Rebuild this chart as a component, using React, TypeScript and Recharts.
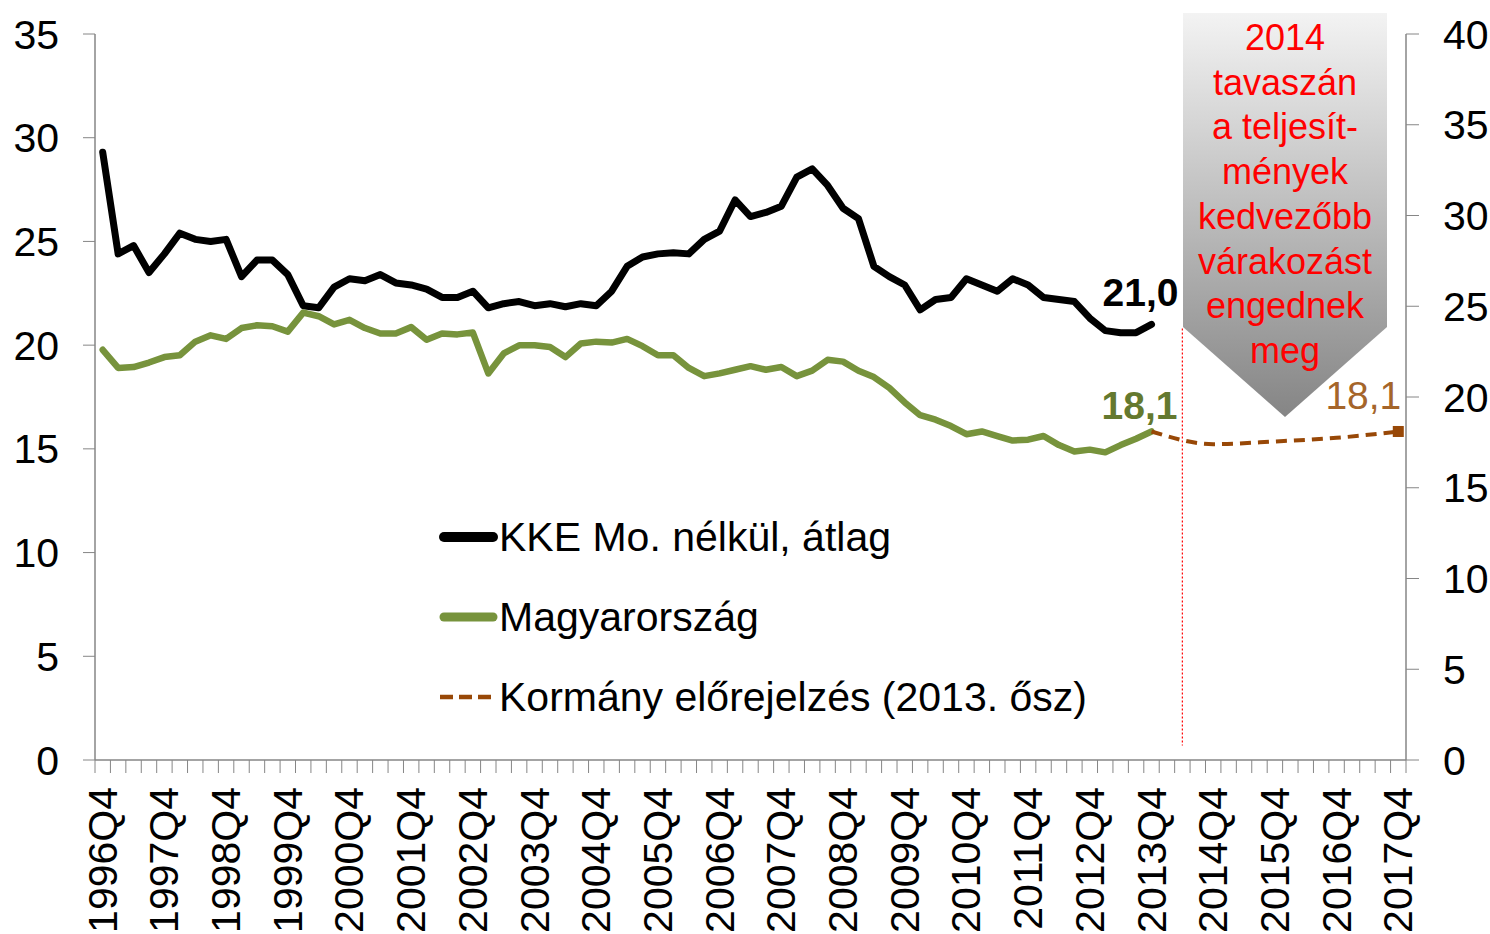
import React from "react";
import { Legend, Line, LineChart, ReferenceLine, XAxis, YAxis } from "recharts";

const QUARTERS = [
  "1996Q4",
  "1997Q1", "1997Q2", "1997Q3", "1997Q4",
  "1998Q1", "1998Q2", "1998Q3", "1998Q4",
  "1999Q1", "1999Q2", "1999Q3", "1999Q4",
  "2000Q1", "2000Q2", "2000Q3", "2000Q4",
  "2001Q1", "2001Q2", "2001Q3", "2001Q4",
  "2002Q1", "2002Q2", "2002Q3", "2002Q4",
  "2003Q1", "2003Q2", "2003Q3", "2003Q4",
  "2004Q1", "2004Q2", "2004Q3", "2004Q4",
  "2005Q1", "2005Q2", "2005Q3", "2005Q4",
  "2006Q1", "2006Q2", "2006Q3", "2006Q4",
  "2007Q1", "2007Q2", "2007Q3", "2007Q4",
  "2008Q1", "2008Q2", "2008Q3", "2008Q4",
  "2009Q1", "2009Q2", "2009Q3", "2009Q4",
  "2010Q1", "2010Q2", "2010Q3", "2010Q4",
  "2011Q1", "2011Q2", "2011Q3", "2011Q4",
  "2012Q1", "2012Q2", "2012Q3", "2012Q4",
  "2013Q1", "2013Q2", "2013Q3", "2013Q4",
  "2014Q1", "2014Q2", "2014Q3", "2014Q4",
  "2015Q1", "2015Q2", "2015Q3", "2015Q4",
  "2016Q1", "2016Q2", "2016Q3", "2016Q4",
  "2017Q1", "2017Q2", "2017Q3", "2017Q4",
];

// left axis, 1996Q4 .. 2013Q4
const KKE_AVG = [
  29.3,
  24.4, 24.8, 23.5, 24.4,
  25.4, 25.1, 25.0, 25.1,
  23.3, 24.1, 24.1, 23.4,
  21.9, 21.8, 22.8, 23.2,
  23.1, 23.4, 23.0, 22.9,
  22.7, 22.3, 22.3, 22.6,
  21.8, 22.0, 22.1, 21.9,
  22.0, 21.85, 22.0, 21.9,
  22.6, 23.8, 24.25, 24.4,
  24.45, 24.4, 25.1, 25.5,
  27.0, 26.2, 26.4, 26.7,
  28.1, 28.5, 27.7, 26.6,
  26.1, 23.8, 23.3, 22.9,
  21.7, 22.2, 22.3, 23.2,
  22.9, 22.6, 23.2, 22.9,
  22.3, 22.2, 22.1, 21.3,
  20.7, 20.6, 20.6, 21.0,
];

// right axis, 1996Q4 .. 2013Q4
const HUNGARY = [
  22.6,
  21.6, 21.65, 21.9, 22.2,
  22.3, 23.05, 23.4, 23.2,
  23.8, 23.95, 23.9, 23.6,
  24.65, 24.45, 24.0, 24.25,
  23.8, 23.5, 23.5, 23.85,
  23.15, 23.5, 23.45, 23.55,
  21.3, 22.4, 22.85, 22.85,
  22.75, 22.2, 22.95, 23.05,
  23.0, 23.2, 22.8, 22.3,
  22.3, 21.6, 21.15, 21.3,
  21.5, 21.7, 21.5, 21.65,
  21.15, 21.45, 22.05, 21.95,
  21.45, 21.1, 20.5, 19.7,
  19.0, 18.75, 18.4, 17.95,
  18.1, 17.85, 17.6, 17.65,
  17.85, 17.35, 17.0, 17.1,
  16.95, 17.35, 17.7, 18.1,
];

const FORECAST_QUARTERS = ["2013Q4", "2014Q4", "2015Q4", "2016Q4", "2017Q4"];
const FORECAST = [18.1, 17.4, 17.55, 17.75, 18.1];

const LEFT_TICKS = [0, 5, 10, 15, 20, 25, 30, 35];
const RIGHT_TICKS = [0, 5, 10, 15, 20, 25, 30, 35, 40];

const SERIES_NAMES = [
  "KKE Mo. nélkül, átlag",
  "Magyarország",
  "Kormány előrejelzés (2013. ősz)",
];

const NOTE_QUARTER = "2014Q2";
const NOTE_LINES = [
  "2014",
  "tavaszán",
  "a teljesít-",
  "mények",
  "kedvezőbb",
  "várakozást",
  "engednek",
  "meg",
];

const data = QUARTERS.map((q, i) => {
  const f = FORECAST_QUARTERS.indexOf(q);
  return {
    q,
    kke: i < KKE_AVG.length ? KKE_AVG[i] : null,
    hu: i < HUNGARY.length ? HUNGARY[i] : null,
    forecast: f >= 0 ? FORECAST[f] : null,
  };
});

const W = 1490;
const H = 934;
const PLOT_LEFT = 95;
const PLOT_RIGHT = 1406;
const PLOT_TOP = 34;
const PLOT_BOTTOM = 760;
const BAND = (PLOT_RIGHT - PLOT_LEFT) / QUARTERS.length;

const FONT = '"Liberation Sans", Arial, sans-serif';
const AXIS = "#868686";
const BLACK = "#000000";
const GREEN = "#77933c";
const GREEN_LABEL = "#64792f";
const BROWN = "#984807";
const BROWN_LABEL = "#a5652a";

const fmt = (v: number) => v.toFixed(1).replace(".", ",");

const QuarterTick = (props: any) => {
  const { x, y, payload, index } = props;
  const half = BAND / 2;
  const showLabel = String(payload.value).endsWith("Q4");
  const ty = y + 27;
  return (
    <g>
      <line x1={x - half} y1={y} x2={x - half} y2={y + 13} stroke={AXIS} />
      {index === QUARTERS.length - 1 && (
        <line x1={x + half} y1={y} x2={x + half} y2={y + 13} stroke={AXIS} />
      )}
      {showLabel && (
        <text
          x={x}
          y={ty}
          transform={`rotate(-90, ${x}, ${ty})`}
          textAnchor="end"
          dominantBaseline="central"
          fontSize={41}
          fill="#000"
        >
          {payload.value}
        </text>
      )}
    </g>
  );
};

const lastLabel =
  (idx: number, color: string, bold: boolean, dx: number, dy: number, anchor: string) =>
  (props: any) => {
    if (props.index !== idx || props.value == null) return null;
    const px = props.x ?? props.viewBox?.x;
    const py = props.y ?? props.viewBox?.y;
    return (
      <text
        key={`lbl-${idx}`}
        x={px + dx}
        y={py + dy}
        textAnchor={anchor as any}
        fontSize={39}
        fontWeight={bold ? "bold" : "normal"}
        fill={color}
      >
        {fmt(Number(props.value))}
      </text>
    );
  };

const endSquare = (props: any) => {
  if (props.index !== QUARTERS.length - 1 || props.cy == null) {
    return <g key={`d-${props.index}`} />;
  }
  return (
    <rect
      key={`d-${props.index}`}
      x={props.cx - 5.5}
      y={props.cy - 5.5}
      width={11}
      height={11}
      fill={BROWN}
    />
  );
};

const LEGEND_STYLES = [
  { stroke: BLACK, width: 10, dash: undefined as string | undefined },
  { stroke: GREEN, width: 9, dash: undefined as string | undefined },
  { stroke: BROWN, width: 4.5, dash: "13 6" },
];

const LegendContent = () => (
  <div style={{ fontFamily: FONT, fontSize: 41, color: "#000" }}>
    {SERIES_NAMES.map((name, i) => {
      const s = LEGEND_STYLES[i];
      return (
        <div
          key={name}
          style={{ display: "flex", alignItems: "center", height: 80, lineHeight: "80px" }}
        >
          <svg width={61} height={20} style={{ display: "block" }}>
            <line
              x1={s.dash ? 2 : 6}
              x2={s.dash ? 53 : 55}
              y1={10}
              y2={10}
              stroke={s.stroke}
              strokeWidth={s.width}
              strokeLinecap={s.dash ? "butt" : "round"}
              strokeDasharray={s.dash}
            />
          </svg>
          <span style={{ whiteSpace: "nowrap" }}>{name}</span>
        </div>
      );
    })}
  </div>
);

export default function App() {
  return (
    <div
      style={{
        position: "absolute",
        left: 0,
        top: 0,
        width: W,
        height: H,
        background: "#fff",
        fontFamily: FONT,
      }}
    >
      <LineChart
        width={W}
        height={H}
        data={data}
        margin={{ top: PLOT_TOP, right: 0, bottom: 0, left: 0 }}
      >
        <XAxis
          dataKey="q"
          scale="band"
          interval={0}
          height={H - PLOT_BOTTOM}
          tickLine={false}
          tickSize={0}
          tickMargin={0}
          axisLine={{ stroke: AXIS, strokeWidth: 1.5 }}
          tick={<QuarterTick />}
        />
        <YAxis
          yAxisId="left"
          domain={[0, 35]}
          ticks={LEFT_TICKS}
          interval={0}
          width={PLOT_LEFT}
          tickSize={12}
          tickMargin={24}
          axisLine={{ stroke: AXIS, strokeWidth: 1.5 }}
          tickLine={{ stroke: AXIS }}
          tick={{ fontSize: 41, fill: "#000" }}
        />
        <YAxis
          yAxisId="right"
          orientation="right"
          domain={[0, 40]}
          ticks={RIGHT_TICKS}
          interval={0}
          width={W - PLOT_RIGHT}
          tickSize={13}
          tickMargin={24}
          axisLine={{ stroke: AXIS, strokeWidth: 1.5 }}
          tickLine={{ stroke: AXIS }}
          tick={{ fontSize: 41, fill: "#000" }}
        />
        <ReferenceLine
          yAxisId="left"
          segment={[
            { x: NOTE_QUARTER, y: 20.8 },
            { x: NOTE_QUARTER, y: 0.7 },
          ]}
          stroke="#ff0000"
          strokeWidth={1.2}
          strokeDasharray="2 2"
        />
        <Legend
          layout="vertical"
          align="center"
          verticalAlign="middle"
          content={<LegendContent />}
          wrapperStyle={{ left: 438, top: 497, width: "auto" }}
        />
        <Line
          yAxisId="left"
          dataKey="kke"
          name={SERIES_NAMES[0]}
          stroke={BLACK}
          strokeWidth={7}
          strokeLinejoin="round"
          strokeLinecap="round"
          dot={false}
          isAnimationActive={false}
          label={lastLabel(KKE_AVG.length - 1, BLACK, true, -11, -18, "middle")}
        />
        <Line
          yAxisId="right"
          dataKey="hu"
          name={SERIES_NAMES[1]}
          stroke={GREEN}
          strokeWidth={6.5}
          strokeLinejoin="round"
          strokeLinecap="round"
          dot={false}
          isAnimationActive={false}
          label={lastLabel(HUNGARY.length - 1, GREEN_LABEL, true, -12, -12, "middle")}
        />
        <Line
          yAxisId="right"
          dataKey="forecast"
          name={SERIES_NAMES[2]}
          type="monotone"
          connectNulls
          stroke={BROWN}
          strokeWidth={4}
          strokeDasharray="11 7"
          dot={endSquare}
          isAnimationActive={false}
          label={lastLabel(QUARTERS.length - 1, BROWN_LABEL, false, 3, -22, "end")}
        />
      </LineChart>
      <svg
        width={W}
        height={H}
        style={{ position: "absolute", left: 0, top: 0, pointerEvents: "none" }}
      >
        <defs>
          <linearGradient id="noteFill" x1="0" y1="0" x2="0" y2="1">
            <stop offset="0" stopColor="#f3f3f3" />
            <stop offset="1" stopColor="#858585" />
          </linearGradient>
        </defs>
        <polygon points="1183,13 1387,13 1387,327 1285,417 1183,327" fill="url(#noteFill)" />
        {NOTE_LINES.map((t, i) => (
          <text
            key={t}
            x={1285}
            y={50 + i * 44.7}
            textAnchor="middle"
            fontSize={36}
            fill="#ff0000"
          >
            {t}
          </text>
        ))}
      </svg>
    </div>
  );
}
